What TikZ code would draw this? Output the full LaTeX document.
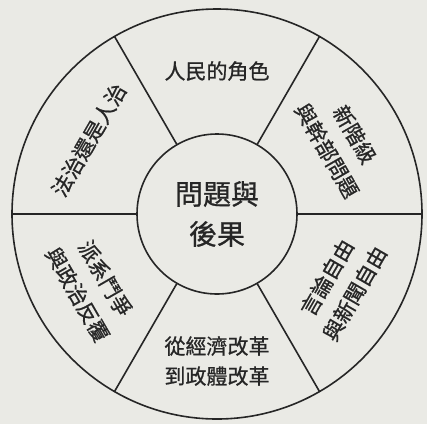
\documentclass[tikz,border=0pt]{standalone}
\usepackage{fontspec}
\newfontfamily\cjk[FakeBold=0.8]{Noto Sans CJK TC}
\definecolor{paper}{RGB}{234,234,229}
\definecolor{ink}{RGB}{38,38,38}
\tikzset{
  ring/.style={circle,draw=ink,line width=1.6pt,outer sep=0pt,inner sep=0pt},
  spoke/.style={draw=ink,line width=1.6pt},
  sector/.style={font=\cjk\fontsize{21}{32}\selectfont,text=ink,align=center,inner sep=0pt},
}
\begin{document}
\begin{tikzpicture}[x=1pt,y=1pt]
  \fill[paper] (-217,-210) rectangle (210,214);
  \useasboundingbox (-217,-210) rectangle (210,214);
  \node[ring,minimum size=410pt] (rim) at (0,0) {};
  \node[ring,minimum size=160pt,text=ink,align=center,font=\cjk\fontsize{28}{40}\selectfont] (core) at (0,0) {問題與\\後果};
  \foreach \a in {0,60,...,300}
    \draw[spoke] (core.\a) -- (rim.\a);
  % the six sectors
  \node[sector] (people) at (90:143) {人民的角色};
  \node[sector,rotate=-60] (cadre) at (30:143) {新階級\\與幹部問題};
  \node[sector,rotate=60] (press) at (-30:143) {言論自由\\與新聞自由};
  \node[sector,font=\cjk\fontsize{21}{30}\selectfont] (reform) at (270:147) {從經濟改革\\到政體改革};
  \node[sector,rotate=-60] (faction) at (210:145) {派系鬥爭\\與政治反覆};
  \node[sector,rotate=60] (law) at (150:148) {法治還是人治};
\end{tikzpicture}
\end{document}
